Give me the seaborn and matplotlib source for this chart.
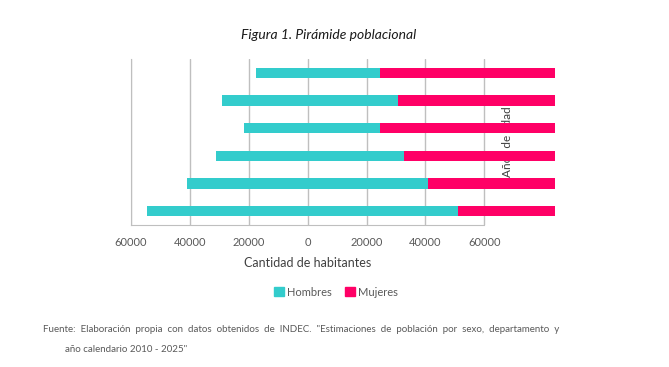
import numpy as np
import pandas as pd
import seaborn as sns
import matplotlib.pyplot as plt
from matplotlib.patches import Patch
from matplotlib.transforms import blended_transform_factory

# Data (top bar first)
grupos = ["75+", "60-74", "45-59", "30-44", "15-29", "0-14"]
hombres = [17500, 29150, 21460, 31190, 40880, 54440]
mujeres = [24650, 30750, 24650, 32780, 40920, 51190]
ticks = [-60000, -40000, -20000, 0, 20000, 40000, 60000]
x_max = 84000

cyan = "#33CCCC"
magenta = "#FF0066"
gray_txt = "#595959"

sns.set_style("white")
plt.rcParams['font.family'] = ['Lato', 'DejaVu Sans']

df = pd.DataFrame({"grupo": grupos,
                   "hombres": [-h for h in hombres],
                   "mujeres": mujeres,
                   "tope": [x_max] * len(grupos)})

fig = plt.figure(figsize=(6.69, 3.67), dpi=100)
ax = fig.add_axes([131 / 669, 142 / 367, (555 - 131) / 669, 166 / 367])

# Mujeres run off the right edge, Hombres from -h up to m
sns.barplot(data=df, y="grupo", x="tope", color=magenta, width=0.38,
            linewidth=0, errorbar=None, ax=ax, saturation=1)
sns.barplot(data=df, y="grupo", x="mujeres", color=cyan, width=0.38,
            linewidth=0, errorbar=None, ax=ax, saturation=1)
sns.barplot(data=df, y="grupo", x="hombres", color=cyan, width=0.38,
            linewidth=0, errorbar=None, ax=ax, saturation=1)

ax.set_xlim(-60000, x_max)
ax.set_ylim(5.5, -0.5)
ax.set_xticks(ticks)
ax.set_xticklabels([str(abs(t)) for t in ticks], fontsize=8, color=gray_txt)
ax.tick_params(axis='x', length=0, pad=9)
ax.set_yticks([])
ax.set_ylabel("")
ax.set_xlabel("")
ax.set_axisbelow(True)
ax.grid(axis='x', color="#BFBFBF", linewidth=1)
ax.grid(axis='y', visible=False)
for s in ["top", "right"]:
    ax.spines[s].set_visible(False)
ax.spines["left"].set_color("#BFBFBF")
ax.spines["bottom"].set_color("#BFBFBF")
ax.spines["bottom"].set_bounds(-60000, 60000)

# y label sits behind the pink bars
tr = blended_transform_factory(ax.transData, ax.transAxes)
ax.text(68000, 0.5, "Años de edad", transform=tr, rotation=90,
        ha="center", va="center", fontsize=8.5, color="#404040", zorder=0.8)

fig.text(307.5 / 669, 1 - 263 / 367, "Cantidad de habitantes",
         ha="center", va="center", fontsize=9, color="#404040")

fig.text(329 / 669, 1 - 35 / 367, "Figura 1. Pirámide poblacional",
         ha="center", va="center", fontsize=10, style="italic", color="#1a1a1a")

handles = [Patch(color=cyan, label="Hombres"), Patch(color=magenta, label="Mujeres")]
fig.legend(handles=handles, loc="center", bbox_to_anchor=(336 / 669, 1 - 292 / 367),
           ncol=2, frameon=False, fontsize=8, handlelength=0.9, handleheight=0.9,
           handletextpad=0.3, columnspacing=1.2, labelcolor=gray_txt)

fig.text(43 / 669, 1 - 330 / 367,
         "Fuente:  Elaboración  propia  con  datos  obtenidos  de  INDEC.  \"Estimaciones  de  población  por  sexo,  departamento  y",
         ha="left", va="center", fontsize=7, color=gray_txt)
fig.text(65 / 669, 1 - 349 / 367, "año calendario 2010 - 2025\"",
         ha="left", va="center", fontsize=7, color=gray_txt)

fig.savefig("out.png", dpi=100)
